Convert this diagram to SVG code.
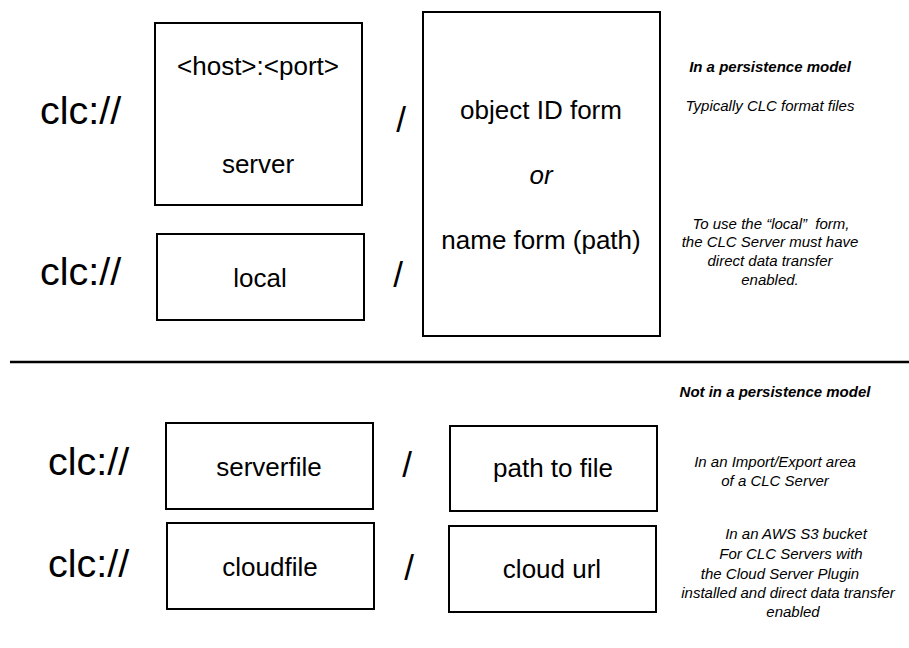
<svg xmlns="http://www.w3.org/2000/svg" width="909" height="648" viewBox="0 0 909 648">
<style>
.box{fill:#fff;stroke:#000;stroke-width:2}
.big{font-family:"Liberation Sans",Arial,sans-serif;font-size:39.5px;fill:#000}
.mid{font-family:"Liberation Sans",Arial,sans-serif;font-size:26px;fill:#000;text-anchor:middle}
.sl{font-family:"Liberation Sans",Arial,sans-serif;font-size:35px;fill:#000;text-anchor:middle}
.note{font-family:"Liberation Sans",Arial,sans-serif;font-size:15px;font-style:italic;fill:#000;text-anchor:middle}
.head{font-family:"Liberation Sans",Arial,sans-serif;font-size:15px;font-style:italic;font-weight:bold;fill:#000;text-anchor:middle}
</style>
<rect width="909" height="648" fill="#fff"/>
<g id="prefixes">
<text class="big" x="40" y="124">clc://</text>
<text class="big" x="40" y="285">clc://</text>
<text class="big" x="48" y="475">clc://</text>
<text class="big" x="48" y="577">clc://</text>
</g>
<g id="server">
<rect class="box" x="155" y="23" width="207" height="182"/>
<text class="mid" x="258" y="75">&lt;host&gt;:&lt;port&gt;</text>
<text class="mid" x="258" y="173">server</text>
</g>
<g id="local">
<rect class="box" x="157" y="234" width="207" height="86"/>
<text class="mid" x="260" y="287">local</text>
</g>
<g id="object">
<rect class="box" x="423" y="12" width="237" height="324"/>
<text class="mid" x="541" y="119">object ID form</text>
<text class="mid" x="541" y="184" font-style="italic">or</text>
<text class="mid" x="541" y="249">name form (path)</text>
</g>
<g id="serverfile">
<rect class="box" x="166" y="423" width="207" height="86"/>
<text class="mid" x="269" y="476">serverfile</text>
</g>
<g id="pathtofile">
<rect class="box" x="450" y="426" width="207" height="85"/>
<text class="mid" x="553" y="477">path to file</text>
</g>
<g id="cloudfile">
<rect class="box" x="167" y="523" width="207" height="86"/>
<text class="mid" x="270" y="576">cloudfile</text>
</g>
<g id="cloudurl">
<rect class="box" x="449" y="526" width="207" height="86"/>
<text class="mid" x="552" y="578">cloud url</text>
</g>
<g id="slashes">
<text class="sl" x="401" y="132">/</text>
<text class="sl" x="398" y="287">/</text>
<text class="sl" x="407" y="477">/</text>
<text class="sl" x="409" y="580">/</text>
</g>
<g id="connectors">
<line x1="10" y1="362" x2="909" y2="362" stroke="#000" stroke-width="2.5"/>
</g>
<g id="notes-top">
<text class="head" x="770" y="72">In a persistence model</text>
<text class="note" x="770" y="111">Typically CLC format files</text>
<text class="note" x="771" y="229" xml:space="preserve">To use the “local”  form,</text>
<text class="note" x="770" y="247">the CLC Server must have</text>
<text class="note" x="770" y="266">direct data transfer</text>
<text class="note" x="770" y="285">enabled.</text>
</g>
<g id="notes-bottom">
<text class="head" x="775" y="397">Not in a persistence model</text>
<text class="note" x="775" y="467">In an Import/Export area</text>
<text class="note" x="775" y="486">of a CLC Server</text>
<text class="note" x="796" y="539">In an AWS S3 bucket</text>
<text class="note" x="791" y="559">For CLC Servers with</text>
<text class="note" x="780" y="579">the Cloud Server Plugin</text>
<text class="note" x="788" y="598">installed and direct data transfer</text>
<text class="note" x="793" y="617">enabled</text>
</g>
</svg>
